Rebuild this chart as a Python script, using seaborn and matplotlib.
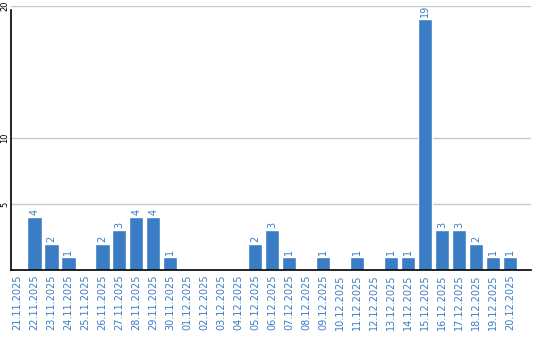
import matplotlib
matplotlib.use("Agg")
import matplotlib.pyplot as plt
import seaborn as sns
import pandas as pd

dates = ["21.11.2025", "22.11.2025", "23.11.2025", "24.11.2025", "25.11.2025",
         "26.11.2025", "27.11.2025", "28.11.2025", "29.11.2025", "30.11.2025",
         "01.12.2025", "02.12.2025", "03.12.2025", "04.12.2025", "05.12.2025",
         "06.12.2025", "07.12.2025", "08.12.2025", "09.12.2025", "10.12.2025",
         "11.12.2025", "12.12.2025", "13.12.2025", "14.12.2025", "15.12.2025",
         "16.12.2025", "17.12.2025", "18.12.2025", "19.12.2025", "20.12.2025"]
counts = [0, 4, 2, 1, 0, 2, 3, 4, 4, 1,
          0, 0, 0, 0, 2, 3, 1, 0, 1, 0,
          1, 0, 1, 1, 19, 3, 3, 2, 1, 1]
yticks = [5, 10, 20]

df = pd.DataFrame({"date": dates, "count": counts})

sns.set_style("white")
plt.rcParams['font.family'] = ['DejaVu Sans']

bar_color = "#3b7dc4"
label_color = "#3b7dc4"

fig = plt.figure(figsize=(5.4, 3.4), dpi=100)
ax = fig.add_axes([10.5/540, 1 - 270/340, 520.5/540, 264/340])

sns.barplot(data=df, x="date", y="count", color=bar_color, width=0.84,
            saturation=1, ax=ax)

ax.set_xlim(-0.41, 30.24)
ax.set_ylim(0, 20)
ax.set_yticks(yticks)
ax.set_yticklabels([str(v) for v in yticks], rotation=90, va="center",
                   fontsize=6, color="black")
ax.yaxis.grid(True, color="#c8c8c8", linewidth=1)
ax.set_axisbelow(True)
ax.tick_params(axis="y", length=0, pad=1)
ax.tick_params(axis="x", length=0, pad=3)
ax.set_xticks(range(len(dates)))
ax.set_xticklabels(dates, rotation=90, fontsize=7, color=label_color)
ax.set_xlabel("")
ax.set_ylabel("")

for s in ["top", "right"]:
    ax.spines[s].set_visible(False)
ax.spines["left"].set_color("black")
ax.spines["bottom"].set_color("black")
ax.spines["left"].set_linewidth(1.2)
ax.spines["bottom"].set_linewidth(1.2)
ax.spines["left"].set_bounds(0, 19.7)

for i, v in enumerate(counts):
    if v > 0:
        ax.text(i, v + 0.15, str(v), rotation=90, ha="center", va="bottom",
                fontsize=7, color=label_color)

fig.savefig("out.png", dpi=100)
